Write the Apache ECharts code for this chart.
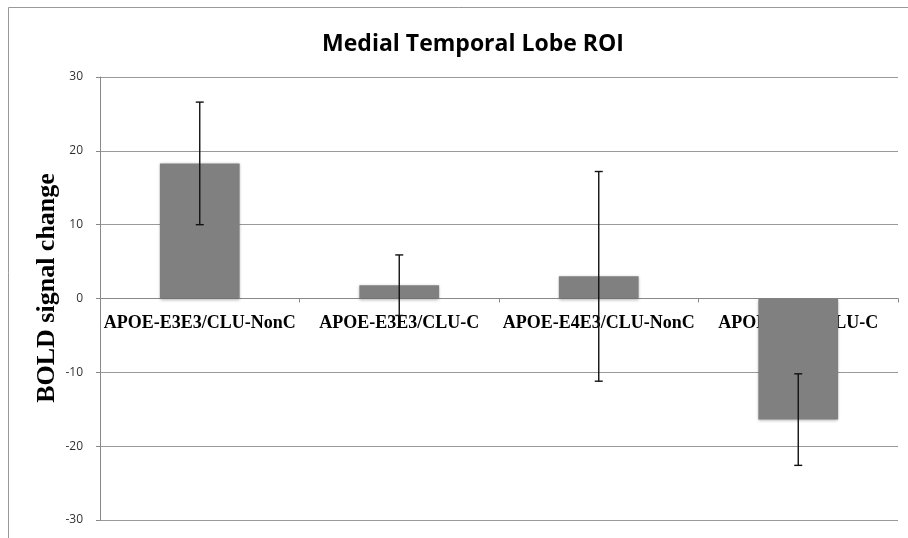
<!DOCTYPE html>
<html>
<head>
<meta charset="utf-8">
<script src="https://cdn.jsdelivr.net/npm/echarts@6/dist/echarts.min.js"></script>
<style>html,body{margin:0;padding:0;background:#fff;}#c{width:908px;height:538px;}</style>
</head>
<body>
<div id="c"></div>
<script>
var categories = ['APOE-E3E3/CLU-NonC', 'APOE-E3E3/CLU-C', 'APOE-E4E3/CLU-NonC', 'APOE-E4E3/CLU-C'];
var means = [18.3, 1.8, 3.0, -16.4];
var errors = [8.3, 4.1, 14.2, 6.2];
var yTicks = [-30, -20, -10, 0, 10, 20, 30];
var yAxisTitle = 'BOLD signal change';

var errData = means.map(function (m, i) { return [i, m - errors[i], m + errors[i]]; });

var gridTop = 77, gridBottom = 18, H = 538;
var plotH = H - gridTop - gridBottom;
var zeroOffset = -plotH * (0 - yTicks[0]) / (yTicks[yTicks.length - 1] - yTicks[0]);

var chart = echarts.init(document.getElementById('c'), null, {renderer: 'canvas'});
chart.setOption({
  animation: false,
  backgroundColor: '#fff',
  title: {
    text: 'Medial Temporal Lobe ROI',
    left: 468, top: 28, textAlign: 'center',
    textStyle: {fontFamily: 'Open Sans', fontWeight: 'bold', fontSize: 23, color: '#000'}
  },
  graphic: [
    {type: 'polyline', shape: {points: [[8.5, 538], [8.5, 7.5], [908, 7.5]]}, style: {stroke: '#999', lineWidth: 1, fill: null}, silent: true},
    {type: 'text', x: 47, y: 288, rotation: Math.PI / 2, silent: true,
     style: {text: yAxisTitle, fontFamily: 'Liberation Serif', fontWeight: 'bold', fontSize: 26, fill: '#000', align: 'center', verticalAlign: 'middle'}}
  ],
  grid: {left: 100, right: 10, top: gridTop, bottom: gridBottom},
  xAxis: {
    type: 'category',
    data: categories,
    boundaryGap: true,
    position: 'bottom',
    offset: zeroOffset,
    axisLine: {onZero: false, lineStyle: {color: '#888', width: 1}},
    axisTick: {show: true, inside: false, length: 4, lineStyle: {color: '#888'}},
    axisLabel: {margin: 16, fontFamily: 'Liberation Serif', fontWeight: 'bold', fontSize: 18, color: '#000', interval: 0},
    splitLine: {show: false}
  },
  yAxis: {
    type: 'value',
    min: yTicks[0], max: yTicks[yTicks.length - 1], interval: 10,
    axisLine: {show: true, lineStyle: {color: '#888'}},
    axisTick: {show: true, length: 4, lineStyle: {color: '#888'}},
    axisLabel: {margin: 17, fontFamily: 'Open Sans', fontSize: 12, color: '#333'},
    splitLine: {show: true, lineStyle: {color: '#999', width: 1}}
  },
  series: [
    {
      type: 'bar',
      data: means,
      barWidth: '40%',
      itemStyle: {color: '#808080', shadowBlur: 3, shadowColor: 'rgba(0,0,0,0.3)', shadowOffsetY: 1}
    },
    {
      type: 'custom',
      data: errData,
      encode: {x: 0, y: [1, 2]},
      z: 10,
      renderItem: function (params, api) {
        var x = api.value(0);
        var lo = api.coord([x, api.value(1)]);
        var hi = api.coord([x, api.value(2)]);
        var cap = 4;
        var st = {stroke: '#111', lineWidth: 1.4};
        return {
          type: 'group',
          children: [
            {type: 'line', shape: {x1: hi[0], y1: hi[1], x2: lo[0], y2: lo[1]}, style: st},
            {type: 'line', shape: {x1: hi[0] - cap, y1: hi[1], x2: hi[0] + cap, y2: hi[1]}, style: st},
            {type: 'line', shape: {x1: lo[0] - cap, y1: lo[1], x2: lo[0] + cap, y2: lo[1]}, style: st}
          ]
        };
      }
    }
  ]
});
</script>
</body>
</html>
